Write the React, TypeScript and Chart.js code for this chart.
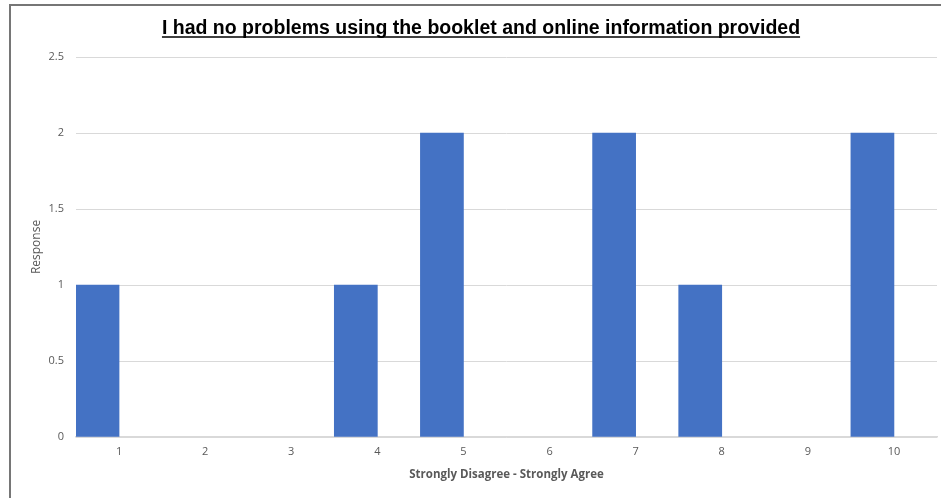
import React, { useEffect, useRef } from "react";
import { Chart, registerables } from "chart.js";

Chart.register(...registerables);

const categories = ["1", "2", "3", "4", "5", "6", "7", "8", "9", "10"];
const responses = [1, 0, 0, 1, 2, 0, 2, 1, 0, 2];
const emptySeries = [null, null, null, null, null, null, null, null, null, null];
const chartTitle = "I had no problems using the booklet and online information provided";
const xTitle = "Strongly Disagree - Strongly Agree";
const yTitle = "Response";

const titlePlugin = {
  id: "underlinedTitle",
  afterDraw(chart: any) {
    const ctx = chart.ctx;
    ctx.save();
    ctx.font = "bold 19.5px 'Liberation Sans', Arial, sans-serif";
    ctx.fillStyle = "#000000";
    ctx.textAlign = "center";
    ctx.textBaseline = "alphabetic";
    const cx = 481;
    const baseY = 34;
    ctx.fillText(chartTitle, cx, baseY);
    const w = ctx.measureText(chartTitle).width;
    ctx.strokeStyle = "#000000";
    ctx.lineWidth = 1.5;
    ctx.beginPath();
    ctx.moveTo(cx - w / 2, baseY + 3);
    ctx.lineTo(cx + w / 2, baseY + 3);
    ctx.stroke();
    ctx.restore();
  },
};

const font = "'Open Sans', Lato, sans-serif";

export default function App() {
  const ref = useRef<HTMLCanvasElement | null>(null);
  useEffect(() => {
    if (!ref.current) return;
    const chart = new Chart(ref.current, {
      type: "bar",
      data: {
        labels: categories,
        datasets: [
          {
            label: "Response",
            data: responses,
            backgroundColor: (c: any) => (c.raw === 0 ? "rgba(0,0,0,0)" : "#4472C4"),
            borderWidth: 0,
            categoryPercentage: 1,
            barPercentage: 1,
          },
          {
            label: "Empty",
            data: emptySeries as any,
            backgroundColor: "#ED7D31",
            borderWidth: 0,
            categoryPercentage: 1,
            barPercentage: 1,
          },
        ],
      },
      options: {
        animation: false,
        responsive: false,
        maintainAspectRatio: false,
        layout: { padding: { top: 57, left: 29, right: 4, bottom: 12 } },
        plugins: {
          legend: { display: false },
          tooltip: { enabled: false },
          title: { display: false },
        },
        scales: {
          x: {
            grid: { display: false, drawTicks: false },
            border: { display: true, color: "#d9d9d9", width: 1.5 },
            ticks: {
              color: "#595959",
              font: { family: font, size: 11 },
              padding: 8,
              maxRotation: 0,
            },
            title: {
              display: true,
              text: xTitle,
              color: "#595959",
              font: { family: font, size: 11.5, weight: "bold" },
              padding: { top: 0, bottom: 4 },
            },
            afterFit(scale: any) {
              scale.height = 498 - 437 - 12;
            },
          },
          y: {
            min: 0,
            max: 2.5,
            grid: { color: "#d9d9d9", drawTicks: false, lineWidth: 1 },
            border: { display: false },
            ticks: {
              stepSize: 0.5,
              color: "#595959",
              font: { family: font, size: 11 },
              padding: 12,
              callback: (v: any) => String(Number(v)),
            },
            title: {
              display: true,
              text: yTitle,
              color: "#595959",
              font: { family: font, size: 12 },
              padding: { top: 0, bottom: 0 },
            },
            afterFit(scale: any) {
              scale.width = 76 - 29;
            },
          },
        },
      },
      plugins: [titlePlugin],
    });
    return () => chart.destroy();
  }, []);
  return (
    <div style={{ position: "fixed", left: 0, top: 0, width: 941, height: 498, background: "#fff", overflow: "hidden" }}>
      <div
        style={{
          position: "absolute",
          left: 9,
          top: 4,
          width: 1000,
          height: 600,
          borderLeft: "2px solid #767676",
          borderTop: "2px solid #767676",
          boxSizing: "border-box",
        }}
      />
      <canvas ref={ref} width={941} height={498} style={{ position: "absolute", left: 0, top: 0, width: 941, height: 498 }} />
    </div>
  );
}
